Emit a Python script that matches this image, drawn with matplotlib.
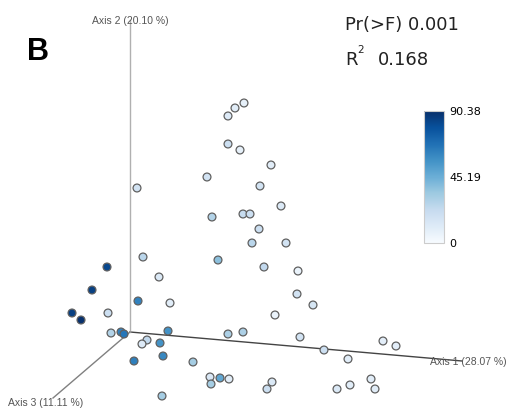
import numpy as np
import matplotlib
matplotlib.use("Agg")
import matplotlib.pyplot as plt
from matplotlib.colors import Normalize

# -------------------------
# Data: projected sample positions (screen space of the 3D view) and gradient value
# -------------------------

proj_x = [228, 235, 244, 228, 240, 207, 137, 271, 260, 281,
          212, 243, 250, 259, 252, 286, 218, 264, 298, 159,
          297, 313, 170, 275, 300, 324, 348, 383, 396, 228,
          243, 193, 210, 211, 220, 229, 272, 267, 337, 350,
          371, 375, 143, 107, 92, 138, 72, 108, 81, 111,
          121, 124, 168, 147, 142, 160, 163, 134, 162]
proj_y = [116, 108, 103, 144, 150, 177, 188, 165, 186, 206,
          217, 214, 214, 229, 243, 243, 260, 267, 271, 277,
          294, 305, 303, 315, 337, 350, 359, 341, 346, 334,
          332, 362, 377, 384, 378, 379, 382, 389, 389, 385,
          379, 389, 257, 267, 290, 301, 313, 313, 320, 333,
          332, 334, 331, 340, 344, 343, 356, 361, 396]
gradient = [12, 10, 8, 20, 8, 17, 17, 10, 17, 13,
            28, 22, 20, 20, 26, 17, 38, 24, 6, 13,
            17, 15, 10, 6, 17, 20, 10, 9, 9, 30,
            30, 32, 14, 32, 48, 10, 13, 20, 13, 10,
            10, 10, 26, 82, 85, 62, 85, 20, 90, 28,
            62, 66, 56, 24, 12, 56, 60, 63, 32]

vmin, vmax = 0, 90.38
cbar_ticks = [0, 45.19, 90.38]
cbar_labels = ['0', '45.19', '90.38']

# axis ends in screen space: origin, axis1, axis2, axis3
origin = (130, 332)
axis_ends = {
    'Axis 1 (28.07 %)': (462, 361),
    'Axis 2 (20.10 %)': (130, 20),
    'Axis 3 (11.11 %)': (53, 398),
}

# -------------------------
# Figure
# -------------------------

fig = plt.figure(figsize=(5.10, 4.11), dpi=100)
ax = fig.add_axes([0, 0, 1, 1])
ax.set_xlim(0, 510)
ax.set_ylim(411, 0)
ax.axis('off')

line_cols = {'Axis 1 (28.07 %)': '#444444',
             'Axis 2 (20.10 %)': '#b0b0b0',
             'Axis 3 (11.11 %)': '#808080'}
for name, end in axis_ends.items():
    ax.plot([origin[0], end[0]], [origin[1], end[1]], color=line_cols[name],
            lw=1.0, zorder=1)

lab_font = dict(family='Liberation Sans', fontsize=7.5, color='#555555')
ax.text(130, 21, 'Axis 2 (20.10 %)', ha='center', va='center', zorder=3, **lab_font)
ax.text(430, 362, 'Axis 1 (28.07 %)', ha='left', va='center', zorder=3, **lab_font)
ax.text(8, 403, 'Axis 3 (11.11 %)', ha='left', va='center', zorder=3, **lab_font)

norm = Normalize(vmin=vmin, vmax=vmax)
sc = ax.scatter(proj_x, proj_y, c=gradient, cmap='Blues', norm=norm, s=32,
                edgecolors='#606060', linewidths=0.9, zorder=2)

ax.text(27, 52, 'B', fontsize=22, fontweight='bold', family='Liberation Sans',
        ha='left', va='center')
ax.text(345, 25, 'Pr(>F) 0.001', fontsize=13, family='DejaVu Sans',
        ha='left', va='center', color='#222222')
ax.text(345, 60, 'R', fontsize=13, family='DejaVu Sans',
        ha='left', va='center', color='#222222')
ax.text(357, 50, '2', fontsize=7.5, family='DejaVu Sans',
        ha='left', va='center', color='#222222')
ax.text(378, 60, '0.168', fontsize=13, family='DejaVu Sans',
        ha='left', va='center', color='#222222')

cax = fig.add_axes([424 / 510, 1 - 243 / 411, 20 / 510, 132 / 411])
cb = fig.colorbar(sc, cax=cax, ticks=cbar_ticks)
cb.ax.set_yticklabels(cbar_labels)
cb.ax.tick_params(length=0, labelsize=8, pad=4)
cb.outline.set_edgecolor('#cccccc')
cb.outline.set_linewidth(0.8)

fig.savefig('out.png', dpi=100)
